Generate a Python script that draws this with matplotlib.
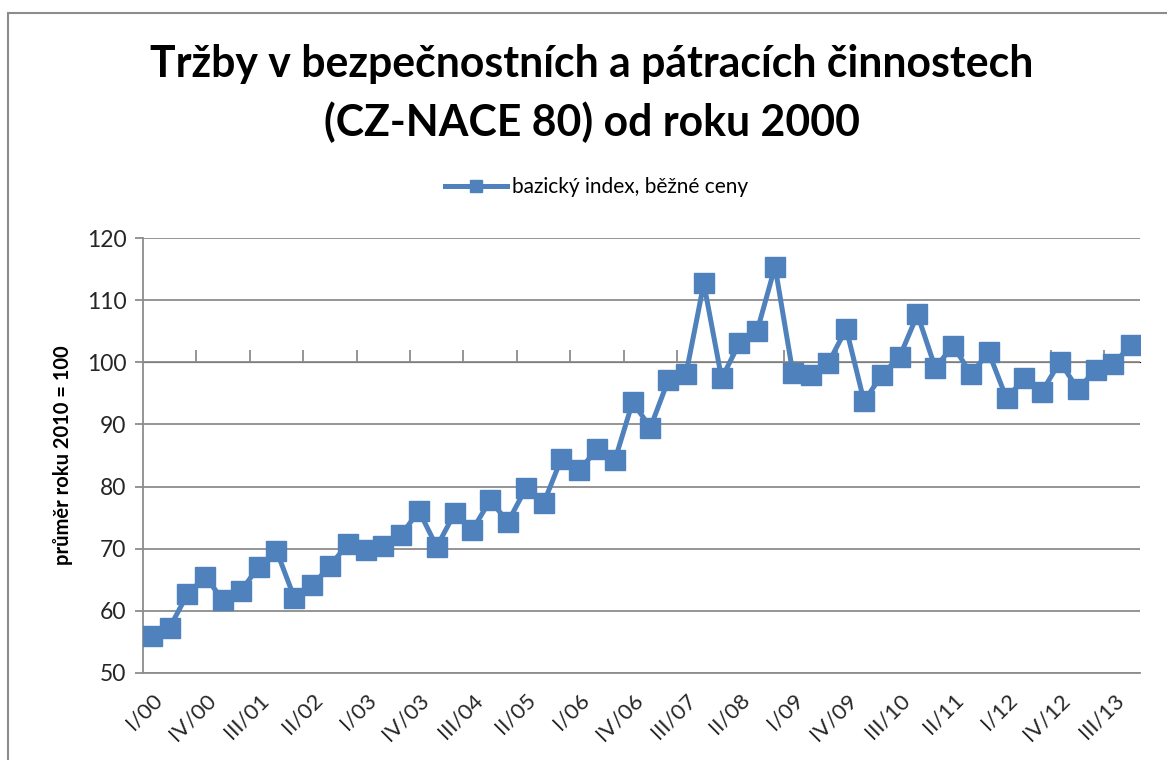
import matplotlib
matplotlib.use("Agg")
import matplotlib.pyplot as plt
from matplotlib.patches import Rectangle
import numpy as np

plt.rcParams['font.family'] = ['Lato', 'DejaVu Sans']

# quarterly values I/00 .. IV/13 (basic index, average 2010 = 100)
values = [
    55.9, 57.3, 62.7, 65.5, 61.7, 63.2, 67.1, 69.7,
    62.1, 64.1, 67.2, 70.8, 69.8, 70.4, 72.2, 76.1,
    70.3, 75.7, 73.0, 77.8, 74.3, 79.7, 77.3, 84.5,
    82.6, 86.0, 84.2, 93.6, 89.5, 97.1, 98.1, 112.7,
    97.4, 103.1, 105.1, 115.4, 98.3, 98.0, 99.9, 105.4,
    93.7, 98.0, 100.9, 107.7, 99.1, 102.7, 98.1, 101.6,
    94.2, 97.4, 95.3, 100.1, 95.7, 98.7, 99.7, 102.8,
]
tick_labels = [
    "I/00", "IV/00", "III/01", "II/02", "I/03", "IV/03", "III/04",
    "II/05", "I/06", "IV/06", "III/07", "II/08", "I/09", "IV/09",
    "III/10", "II/11", "I/12", "IV/12", "III/13",
]
label_step = 3

title = "Tržby v bezpečnostních a pátracích činnostech\n(CZ-NACE 80) od roku 2000"
series_name = "bazický index, běžné ceny"
ylabel = "průměr roku 2010 = 100"

blue = "#4F81BD"
grid_gray = "#8C8C8C"

fig = plt.figure(figsize=(11.67, 7.6), dpi=100)
ax = fig.add_axes([0.1225, 0.1145, 0.8544, 0.5723])

x = np.arange(len(values))
ax.plot(x, values, color=blue, lw=3.6, marker="s", markersize=14,
        markerfacecolor=blue, markeredgecolor=blue, label=series_name, zorder=3)

ymin, ymax = 50, 120
ax.set_ylim(ymin, ymax)
ax.set_xlim(-0.5, len(values) - 0.5)
ax.set_yticks(np.arange(50, 121, 10))
ax.yaxis.grid(True, color=grid_gray, lw=1.3)
ax.set_axisbelow(True)

for side in ["top", "right"]:
    ax.spines[side].set_visible(False)
ax.spines["left"].set_color(grid_gray)
ax.spines["left"].set_linewidth(1.3)
ax.spines["bottom"].set_color(grid_gray)
ax.spines["bottom"].set_linewidth(1.3)
ax.tick_params(axis="y", direction="out", length=6, width=1.3, color=grid_gray,
               labelsize=16.5, labelcolor="#262626", pad=6)

# category labels at the bottom, every third quarter
ax.set_xticks(x[::label_step][:len(tick_labels)])
ax.set_xticklabels(tick_labels, rotation=45, ha="right", rotation_mode="anchor",
                   fontsize=16, color="#262626")
ax.tick_params(axis="x", length=0, pad=12)

# category axis crosses the value axis at 100
cross = (100 - ymin) / (ymax - ymin)
sec = ax.secondary_xaxis(cross)
sec.set_xticks(np.arange(label_step, len(values), label_step) - 0.5)
sec.set_xticklabels([])
sec.spines["bottom"].set_color(grid_gray)
sec.spines["bottom"].set_linewidth(1.3)
sec.tick_params(axis="x", direction="out", length=9, width=1.3, color=grid_gray)

ax.set_ylabel(ylabel, fontsize=14.5, fontweight="bold", labelpad=10)

fig.text(0.507, 0.877, title, ha="center", va="center", fontsize=30.8,
         fontweight="bold", linespacing=1.5)

leg = fig.legend(loc="center", bbox_to_anchor=(0.511, 0.754), frameon=False,
                 fontsize=15, handlelength=3.0, handletextpad=0.2, markerscale=0.65)

fig.add_artist(Rectangle((0.0069, -0.1), 1.2, 0.983 + 0.1, transform=fig.transFigure,
                         fill=False, edgecolor="#8C8C8C", lw=1.5))

fig.savefig("out.png", dpi=100)
